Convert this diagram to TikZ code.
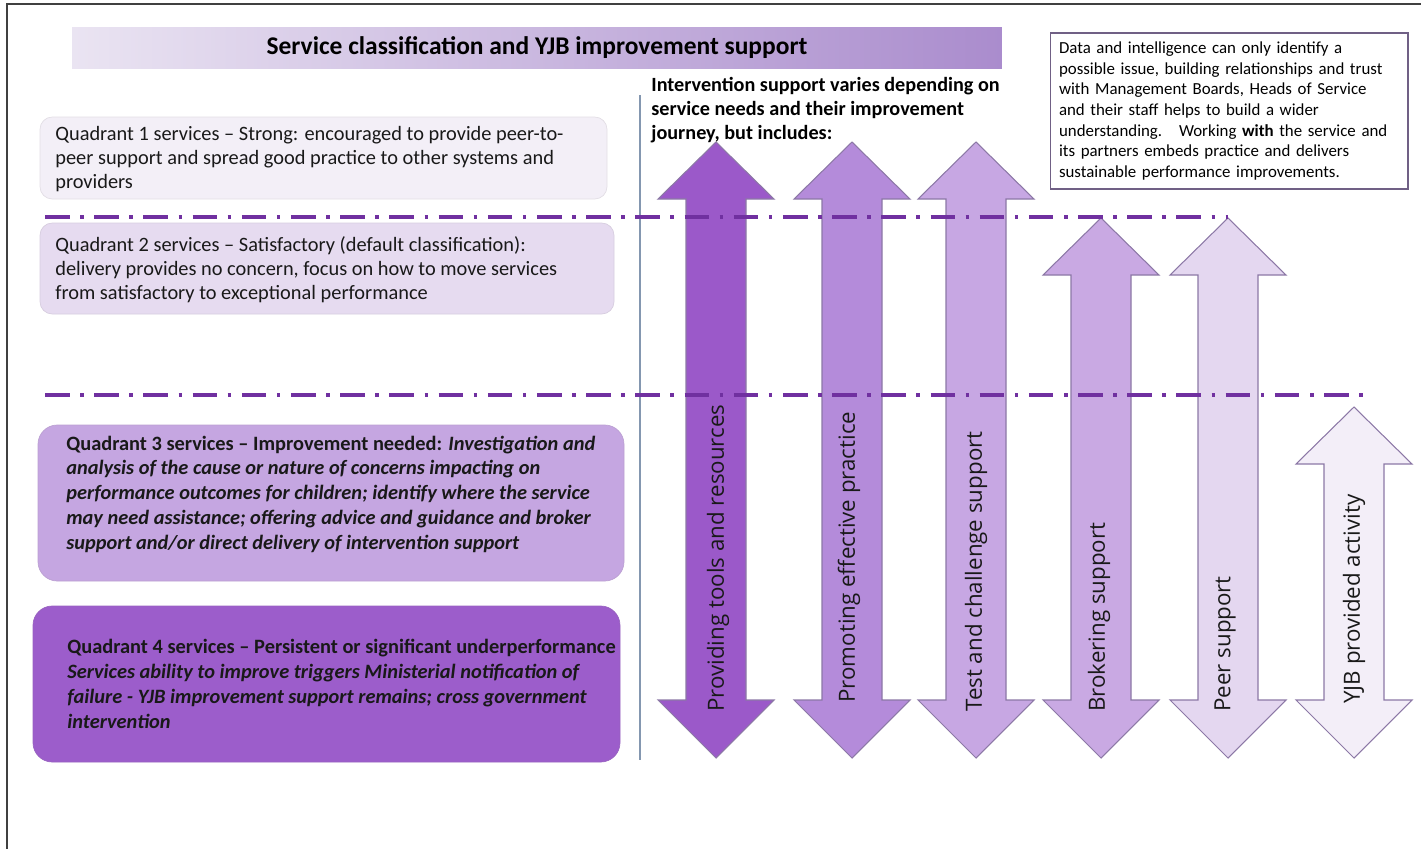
\documentclass[tikz,border=0pt]{standalone}
\usepackage{fontspec}
\setmainfont{Carlito}
\newfontfamily\labelfont{Open Sans}
\usepackage{tikz}
\definecolor{titleL}{HTML}{EAE4F2}
\definecolor{titleR}{HTML}{AA8CCD}
\definecolor{qone}{HTML}{F3EFF7}
\definecolor{qtwo}{HTML}{E6DBF0}
\definecolor{qthree}{HTML}{C5A6E1}
\definecolor{qfour}{HTML}{9C5DCB}
\definecolor{aone}{HTML}{9B59C9}
\definecolor{atwo}{HTML}{B48BDA}
\definecolor{athree}{HTML}{C7A7E3}
\definecolor{afour}{HTML}{C9A9E3}
\definecolor{afive}{HTML}{E4D7F0}
\definecolor{asix}{HTML}{F3EEF8}
\definecolor{linepurple}{HTML}{7030A0}
\definecolor{edge}{HTML}{8C78A6}
\definecolor{bluegray}{HTML}{8497B0}
\tikzset{
	frame/.style={draw=black!75,line width=1pt},
	divider/.style={draw=bluegray,line width=0.7pt},
	ddline/.style={draw=linepurple,line width=2pt,dash pattern=on 14pt off 6pt on 2pt off 6pt},
	titlebar/.style={left color=titleL,right color=titleR,minimum width=18.6cm,minimum height=0.84cm,inner sep=0,font=\bfseries\fontsize{14.5}{17}\selectfont},
	infobox/.style={draw=edge!80!black,line width=0.6pt,text width=6.8cm,inner xsep=0.18cm,minimum height=3.12cm,align=left,font=\fontsize{9.6}{11.8}\selectfont},
	heading/.style={align=left,inner sep=0,font=\bfseries\fontsize{11.5}{13.7}\selectfont},
	qbox/.style={draw=#1!85!gray,fill=#1,rounded corners=7pt},
	qtext/.style={align=left,inner sep=0,text=black!90,font=\fontsize{11.6}{13.6}\selectfont},
	arrowbody/.style={draw=edge,line width=0.6pt},
	arrowlabel/.style={rotate=90,anchor=west,inner sep=0,text=black!90,font=\labelfont\fontsize{12.7}{15}\selectfont}
}
\newcommand{\dblarrow}[3]{%
	\draw[arrowbody,fill=#3] (#1,#2) -- (#1+58,#2+57) -- (#1+30,#2+57) -- (#1+30,700) -- (#1+58,700) -- (#1,758) -- (#1-58,700) -- (#1-30,700) -- (#1-30,#2+57) -- (#1-58,#2+57) -- cycle;
}
\begin{document}
\begin{tikzpicture}[x=0.02cm,y=-0.02cm]
	\useasboundingbox (0,0) rectangle (1421,849);
	\draw[frame] (7,849) -- (7,4) -- (1421,4);

	\node[titlebar] (title) at (537,48) {Service classification and YJB improvement support};
	\node[infobox] (info) at (1229,111) {Data and intelligence can only identify a\\possible issue, building relationships and trust\\with Management Boards, Heads of Service\\and their staff helps to build a wider\\understanding.\ \ \ Working \textbf{with} the service and\\its partners embeds practice and delivers\\sustainable performance improvements.};
	\node[heading,anchor=west] (intro) at (651,110) {Intervention support varies depending on\\service needs and their improvement\\journey, but includes:};

	\draw[qbox=qone] (40,117) rectangle (607,199);
	\draw[qbox=qtwo] (40,223) rectangle (614,314);
	\draw[qbox=qthree,rounded corners=11pt] (38,425) rectangle (624,581);
	\draw[qbox=qfour,rounded corners=11pt] (33,606) rectangle (620,762);

	\node[qtext,anchor=west] (q1) at (55,159) {Quadrant 1 services -- Strong: encouraged to provide peer-to-\\peer support and spread good practice to other systems and\\providers};
	\node[qtext,anchor=west] (q2) at (55,270) {Quadrant 2 services -- Satisfactory (default classification):\\delivery provides no concern, focus on how to move services\\from satisfactory to exceptional performance};
	\node[qtext,anchor=west,font=\bfseries\fontsize{11.6}{14.1}\selectfont] (q3) at (66,494) {Quadrant 3 services -- Improvement needed: \textit{Investigation and}\\\textit{analysis of the cause or nature of concerns impacting on}\\\textit{performance outcomes for children; identify where the service}\\\textit{may need assistance; offering advice and guidance and broker}\\\textit{support and/or direct delivery of intervention support}};
	\node[qtext,anchor=west,font=\bfseries\fontsize{11.6}{14.1}\selectfont] (q4) at (67,684) {Quadrant 4 services -- Persistent or significant underperformance\\\textit{Services ability to improve triggers Ministerial notification of}\\\textit{failure - YJB improvement support remains; cross government}\\\textit{intervention}};

	\draw[divider] (640,95) -- (640,760);

	\dblarrow{716}{142}{aone}
	\dblarrow{852}{142}{atwo}
	\dblarrow{976}{142}{athree}
	\dblarrow{1101}{218}{afour}
	\dblarrow{1228}{218}{afive}
	\dblarrow{1354}{407}{asix}

	\node[arrowlabel] (tools) at (718,712) {Providing tools and resources};
	\node[arrowlabel] (practice) at (849,703) {Promoting effective practice};
	\node[arrowlabel] (challenge) at (976,712) {Test and challenge support};
	\node[arrowlabel] (brokering) at (1099,712) {Brokering support};
	\node[arrowlabel] (peer) at (1225,712) {Peer support};
	\node[arrowlabel] (yjb) at (1354,704) {YJB provided activity};

	\draw[ddline] (45,217) -- (1228,217);
	\draw[ddline] (45,395) -- (1363,395);
\end{tikzpicture}
\end{document}
